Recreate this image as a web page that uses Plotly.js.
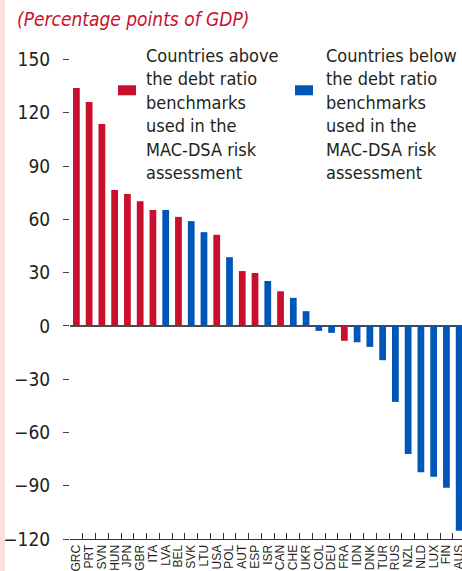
<!DOCTYPE html>
<html>
<head>
<meta charset="utf-8">
<script src="https://cdn.plot.ly/plotly-3.0.1.min.js"></script>
<style>
html,body{margin:0;padding:0;}
body{background:linear-gradient(to right,#f9e2dd 0,#f9e2dd 5px,#ffffff 5px);}
#chart{width:462px;height:571px;}
</style>
</head>
<body>
<div id="chart"></div>
<script>
// Data
const countries = ["GRC","PRT","SVN","HUN","JPN","GBR","ITA","LVA","BEL","SVK","LTU","USA","POL","AUT","ESP","ISR","CAN","CHE","UKR","COL","DEU","FRA","IDN","DNK","TUR","RUS","NZL","NLD","LUX","FIN","AUS"];
const values = [134.0,126.1,113.7,76.6,74.3,70.2,65.3,65.3,61.4,59.0,52.8,51.3,38.7,30.9,29.8,25.3,19.5,15.8,8.3,-2.8,-3.9,-8.4,-9.2,-11.8,-19.3,-42.8,-72.2,-82.4,-85.0,-91.2,-115.4];
// group: "above" = above debt ratio benchmarks, "below" = below
const groups = ["above","above","above","above","above","above","above","below","above","below","below","above","below","above","above","below","above","below","below","below","below","above","below","below","below","below","below","below","below","below","below"];
const yTicks = [150,120,90,60,30,0,-30,-60,-90,-120];
const legendAbove = "Countries above<br>the debt ratio<br>benchmarks<br>used in the<br>MAC-DSA risk<br>assessment";
const legendBelow = "Countries below<br>the debt ratio<br>benchmarks<br>used in the<br>MAC-DSA risk<br>assessment";
const subtitle = "(Percentage points of GDP)";

const RED = "#c8102e", BLUE = "#0057b8", TXT = "#231f20";
const FONT = "Liberation Sans Narrow, Arial Narrow, DejaVu Sans Condensed, sans-serif";
const TICKFONT = "Liberation Sans, Arial, sans-serif";

const W = 462, H = 571;
const mL = 70, mR = 0, mT = 55.7, mB = 32.2;
const pw = W - mL - mR, ph = H - mT - mB;
const px = x => (x - mL) / pw;
const py = y => (H - mB - y) / ph;

const trace = {
  type: "bar",
  x: countries,
  y: values,
  marker: {color: groups.map(g => g === "above" ? RED : BLUE)},
  hoverinfo: "x+y",
  showlegend: false
};

const layout = {
  width: W, height: H,
  margin: {l: mL, r: mR, t: mT, b: mB, pad: 0},
  paper_bgcolor: "rgba(0,0,0,0)",
  plot_bgcolor: "rgba(0,0,0,0)",
  bargap: 0.47,
  font: {family: FONT, color: TXT},
  xaxis: {
    type: "category",
    range: [-0.5, -0.5 + pw / 12.76],
    tickmode: "array",
    tickvals: countries,
    ticktext: countries,
    tickson: "boundaries",
    ticks: "inside", ticklen: 6, tickcolor: "#333", tickwidth: 1,
    tickangle: -90,
    tickfont: {size: 12, color: TXT, family: TICKFONT},
    showline: true, linecolor: "#333", linewidth: 1,
    showgrid: false, zeroline: false, automargin: false,
    fixedrange: true
  },
  yaxis: {
    range: [-120, 152],
    tickvals: yTicks,
    ticktext: yTicks.map(v => v < 0 ? "\u2212" + Math.abs(v) : String(v)),
    ticks: "outside", ticklen: 6, tickcolor: "#444", tickwidth: 1,
    ticklabelstandoff: 9,
    tickfont: {size: 19, color: TXT, family: FONT},
    showgrid: false, showline: false,
    zeroline: true, zerolinecolor: "#4a4a4a", zerolinewidth: 1.5,
    automargin: false, fixedrange: true
  },
  shapes: [
    {type: "rect", xref: "paper", yref: "paper", x0: px(118), x1: px(136), y0: py(95), y1: py(85), fillcolor: RED, line: {width: 0}},
    {type: "rect", xref: "paper", yref: "paper", x0: px(295), x1: px(313), y0: py(95), y1: py(85), fillcolor: BLUE, line: {width: 0}}
  ],
  annotations: [
    {xref: "paper", yref: "paper", x: px(144), y: py(43), xanchor: "left", yanchor: "top", align: "left", showarrow: false,
     text: legendAbove, font: {size: 18, color: TXT, family: FONT}},
    {xref: "paper", yref: "paper", x: px(324), y: py(43), xanchor: "left", yanchor: "top", align: "left", showarrow: false,
     text: legendBelow, font: {size: 18, color: TXT, family: FONT}},
    {xref: "paper", yref: "paper", x: px(15), y: py(19), xanchor: "left", yanchor: "middle", align: "left", showarrow: false,
     text: "<i>" + subtitle + "</i>", font: {size: 19, color: RED, family: FONT}}
  ]
};

Plotly.newPlot("chart", [trace], layout, {displayModeBar: false, staticPlot: true});
</script>
</body>
</html>
